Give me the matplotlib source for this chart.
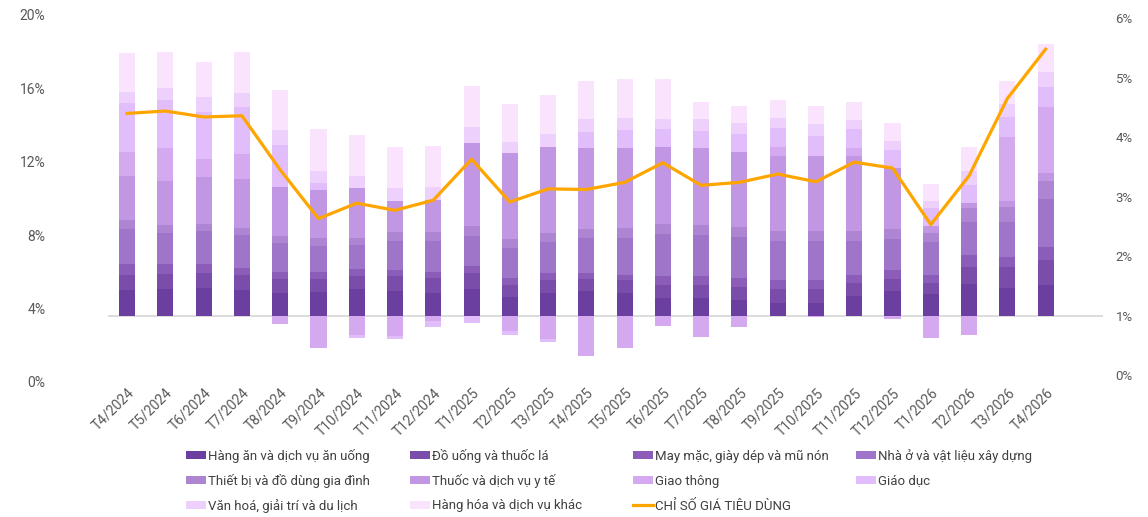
import matplotlib
matplotlib.use('Agg')
import matplotlib.pyplot as plt
import numpy as np

plt.rcParams['font.family'] = ['Roboto', 'DejaVu Sans']

months = ['T4/2024', 'T5/2024', 'T6/2024', 'T7/2024', 'T8/2024', 'T9/2024', 'T10/2024',
          'T11/2024', 'T12/2024', 'T1/2025', 'T2/2025', 'T3/2025', 'T4/2025', 'T5/2025',
          'T6/2025', 'T7/2025', 'T8/2025', 'T9/2025', 'T10/2025', 'T11/2025', 'T12/2025',
          'T1/2026', 'T2/2026', 'T3/2026', 'T4/2026']

# contributions (percentage points)
hang_an = [0.43, 0.45, 0.46, 0.43, 0.38, 0.40, 0.45, 0.42, 0.38, 0.45, 0.32, 0.38, 0.42,
           0.38, 0.30, 0.30, 0.26, 0.21, 0.21, 0.33, 0.42, 0.36, 0.53, 0.47, 0.52]
do_uong = [0.25, 0.25, 0.25, 0.25, 0.24, 0.22, 0.21, 0.24, 0.25, 0.27, 0.20, 0.21, 0.20,
           0.21, 0.22, 0.22, 0.22, 0.24, 0.24, 0.22, 0.20, 0.19, 0.29, 0.35, 0.42]
may_mac = [0.19, 0.17, 0.15, 0.12, 0.12, 0.12, 0.12, 0.10, 0.11, 0.12, 0.11, 0.12, 0.10,
           0.10, 0.14, 0.14, 0.15, 0.14, 0.15, 0.14, 0.14, 0.14, 0.19, 0.17, 0.22]
nha_o = [0.59, 0.52, 0.56, 0.55, 0.48, 0.43, 0.40, 0.50, 0.52, 0.49, 0.51, 0.52, 0.58,
         0.61, 0.71, 0.70, 0.69, 0.67, 0.66, 0.57, 0.52, 0.54, 0.56, 0.59, 0.80]
thiet_bi = [0.14, 0.13, 0.12, 0.12, 0.12, 0.13, 0.13, 0.14, 0.14, 0.17, 0.14, 0.15, 0.15,
            0.17, 0.17, 0.17, 0.17, 0.17, 0.17, 0.17, 0.17, 0.16, 0.24, 0.25, 0.31]
thuoc = [0.74, 0.75, 0.79, 0.82, 0.82, 0.81, 0.83, 0.53, 0.55, 1.41, 1.45, 1.46, 1.37,
         1.34, 1.30, 1.29, 1.26, 1.26, 1.26, 1.26, 1.03, 0.11, 0.08, 0.10, 0.12]
giao_thong = [0.41, 0.54, 0.30, 0.42, -0.15, -0.54, -0.32, -0.34, -0.10, 0.0, -0.26, -0.40,
              -0.68, -0.55, -0.18, -0.36, -0.20, 0.15, -0.03, 0.12, -0.05, -0.37, -0.32,
              1.07, 1.11]
giao_duc = [0.83, 0.82, 0.80, 0.80, 0.71, 0.12, -0.05, -0.06, -0.10, -0.13, -0.07, -0.04,
            0.27, 0.31, 0.29, 0.29, 0.31, 0.31, 0.33, 0.33, 0.30, 0.31, 0.30, 0.34, 0.34]
van_hoa = [0.18, 0.20, 0.24, 0.24, 0.25, 0.20, 0.20, 0.22, 0.22, 0.26, 0.19, 0.22, 0.21,
           0.21, 0.17, 0.19, 0.17, 0.18, 0.20, 0.15, 0.15, 0.12, 0.24, 0.21, 0.26]
khac = [0.65, 0.61, 0.59, 0.68, 0.67, 0.70, 0.69, 0.69, 0.68, 0.69, 0.63, 0.65, 0.65,
        0.65, 0.68, 0.29, 0.29, 0.30, 0.30, 0.31, 0.30, 0.28, 0.41, 0.39, 0.46]

cpi = [4.40, 4.44, 4.34, 4.36, 3.45, 2.63, 2.89, 2.77, 2.94, 3.63, 2.91, 3.13, 3.12,
       3.24, 3.57, 3.19, 3.24, 3.38, 3.25, 3.58, 3.48, 2.53, 3.35, 4.65, 5.48]

groups = [
    ('Hàng ăn và dịch vụ ăn uống', hang_an, '#6B3FA0'),
    ('Đồ uống và thuốc lá', do_uong, '#7A4DAA'),
    ('May mặc, giày dép và mũ nón', may_mac, '#8B5CB8'),
    ('Nhà ở và vật liệu xây dựng', nha_o, '#9E75C8'),
    ('Thiết bị và đồ dùng gia đình', thiet_bi, '#AE85D2'),
    ('Thuốc và dịch vụ y tế', thuoc, '#C196E2'),
    ('Giao thông', giao_thong, '#D4A9F0'),
    ('Giáo dục', giao_duc, '#E2BDFB'),
    ('Văn hoá, giải trí và du lịch', van_hoa, '#EDD0FC'),
    ('Hàng hóa và dịch vụ khác', khac, '#F9E3FD'),
]

W, H = 1148, 517
fig = plt.figure(figsize=(W / 100, H / 100), dpi=100)
rect = [108 / W, 1 - 381.7 / H, (1103 - 108) / W, (381.7 - 15) / H]

axl = fig.add_axes(rect)      # left % scale
axb = axl.twinx()             # bars (contributions)
axr = axl.twinx()             # CPI line, right scale

x = np.arange(len(months))
pos = np.zeros(len(months))
neg = np.zeros(len(months))
handles = []
for name, vals, col in groups:
    v = np.array(vals)
    bottom = np.where(v >= 0, pos, neg)
    h = axb.bar(x, v, width=0.42, bottom=bottom, color=col, label=name, zorder=2)
    handles.append(h)
    pos = pos + np.where(v >= 0, v, 0)
    neg = neg + np.where(v < 0, v, 0)

axb.axhline(0, color='#d9d9d9', lw=1.3, zorder=1)
ln, = axr.plot(x, cpi, color='#FFA500', lw=2.3, label='CHỈ SỐ GIÁ TIÊU DÙNG', zorder=3)
handles.append(ln)

axl.set_xlim(-0.5, 25.5)
axl.set_ylim(0, 20)
axl.set_yticks(np.arange(0, 21, 4))
axl.set_yticklabels([f'{t}%' for t in range(0, 21, 4)])
axb.set_ylim(-1.113, 5.055)
axb.set_yticks([])
axr.set_ylim(-0.113, 6.055)
axr.set_yticks(np.arange(0, 7))
axr.set_yticklabels([f'{t}%' for t in range(0, 7)])

axl.set_xticks(x)
axl.set_xticklabels(months, rotation=45, ha='right', va='top', rotation_mode='anchor')
axl.tick_params(axis='x', length=0, pad=3, labelsize=10, labelcolor='#595959')
axl.tick_params(axis='y', length=0, pad=45, labelsize=10, labelcolor='#595959')
axr.tick_params(axis='y', length=0, pad=9, labelsize=9.5, labelcolor='#595959')
for a in (axl, axb, axr):
    for s in a.spines.values():
        s.set_visible(False)
    a.patch.set_visible(False)

# legend laid out row by row in 4 even columns, like the original
col_x = [186, 410, 633, 856]
row_y = [456, 481, 506]
for i, h in enumerate(handles):
    fig.legend([h], [h.get_label()], loc='center left',
               bbox_to_anchor=(col_x[i % 4] / W, 1 - row_y[i // 4] / H),
               frameon=False, fontsize=9.5, labelcolor='#404040',
               handlelength=1.5, handleheight=0.55, handletextpad=0.2,
               borderpad=0, borderaxespad=0)

fig.savefig('out.png', dpi=100)
